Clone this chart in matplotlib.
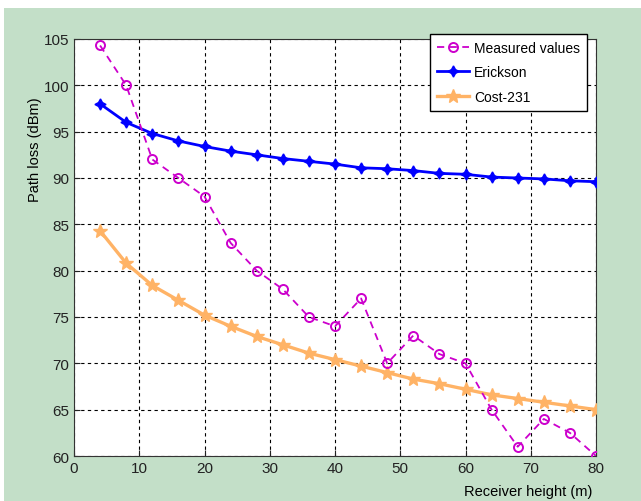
import matplotlib.pyplot as plt
from matplotlib.patches import Rectangle

# receiver heights (m)
heights = [4, 8, 12, 16, 20, 24, 28, 32, 36, 40, 44, 48, 52, 56, 60, 64, 68, 72, 76, 80]

measured = [104.3, 100, 92, 90, 88, 83, 80, 78, 75, 74, 77, 70, 73, 71, 70, 65, 61, 64, 62.5, 60]
erickson = [98, 96, 94.8, 94, 93.4, 92.9, 92.5, 92.1, 91.8, 91.5, 91.1, 91.0, 90.8, 90.5,
            90.4, 90.1, 90.0, 89.9, 89.7, 89.6]
cost231 = [84.3, 80.8, 78.4, 76.8, 75.2, 74.0, 72.9, 72.0, 71.1, 70.4, 69.7, 69.0, 68.3, 67.8,
           67.2, 66.6, 66.2, 65.8, 65.4, 65.0]

xticks = list(range(0, 81, 10))
yticks = list(range(60, 106, 5))

plt.rcParams['font.family'] = ['Liberation Sans Narrow', 'Liberation Sans', 'DejaVu Sans']

W, H = 641, 502
fig = plt.figure(figsize=(W / 100, H / 100), dpi=100, facecolor='white')
# green panel behind the plot
fig.patches.append(Rectangle((4 / W, 0), 1 - 4 / W, (H - 9) / H, transform=fig.transFigure,
                             facecolor='#c3dfc8', edgecolor='none', zorder=-5))

ax = fig.add_axes([74 / W, 1 - 457 / H, (596 - 74) / W, (457 - 40) / H])
ax.set_facecolor('white')

ax.plot(heights, measured, color='#cc00cc', linestyle=(0, (4, 3)), linewidth=1.3,
        marker='o', markersize=6.5, markerfacecolor='none', markeredgewidth=1.4,
        label='Measured values', zorder=4)
ax.plot(heights, erickson, color='#0000ff', linewidth=2.0,
        marker=(4, 1, 0), markersize=8, label='Erickson', zorder=3)
ax.plot(heights, cost231, color='#ffb366', linewidth=2.4,
        marker='*', markersize=10, label='Cost-231', zorder=3)

ax.set_xlim(0, 80)
ax.set_ylim(60, 105)
ax.set_xticks(xticks)
ax.set_yticks(yticks)
ax.tick_params(direction='in', length=4, labelsize=11, colors='#222222', top=False, right=False)
ax.grid(True, color='black', linestyle=(0, (3, 3)), linewidth=0.8)
for s in ax.spines.values():
    s.set_color('#333333')

fig.text(35 / W, 1 - 150 / H, 'Path loss (dBm)', rotation=90, ha='center', va='center', fontsize=10.5)
fig.text(528 / W, 1 - 492 / H, 'Receiver height (m)', ha='center', va='center', fontsize=10.5)

leg = ax.legend(loc='upper right', bbox_to_anchor=(0.983, 1.012), borderaxespad=0,
                fontsize=10, fancybox=False, framealpha=1, edgecolor='black',
                borderpad=0.5, labelspacing=0.75, handlelength=2.3, handletextpad=0.4)
leg.get_frame().set_linewidth(1.0)

fig.savefig('out.png', dpi=100, facecolor=fig.get_facecolor())
